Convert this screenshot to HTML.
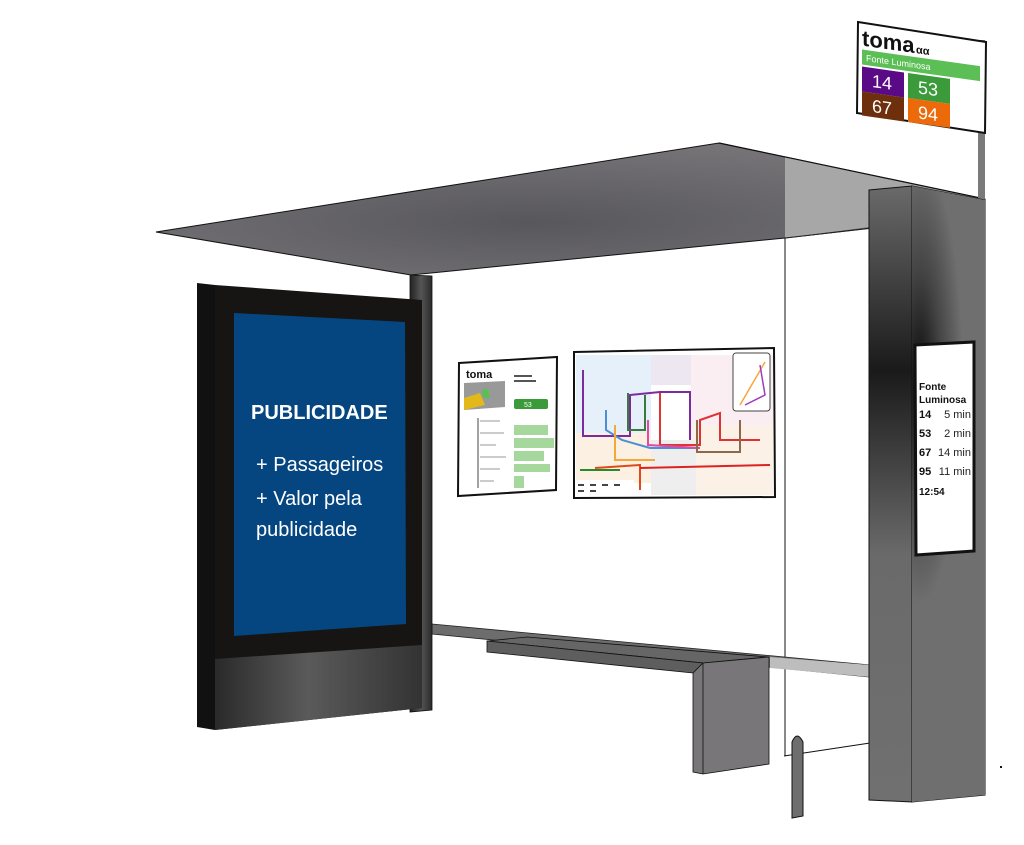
<!DOCTYPE html>
<html><head><meta charset="utf-8"><style>
html,body{margin:0;padding:0;background:#fff;width:1024px;height:845px;overflow:hidden}
svg{display:block}
text{font-family:"Liberation Sans",sans-serif}
</style></head><body>
<svg width="1024" height="845" viewBox="0 0 1024 845" xmlns="http://www.w3.org/2000/svg">
<defs>
<radialGradient id="roofg" cx="0.45" cy="0.6" r="0.7">
<stop offset="0" stop-color="#58575c"/><stop offset="1" stop-color="#7a787b"/></radialGradient>
<linearGradient id="poleg" x1="0" x2="1"><stop offset="0" stop-color="#222"/><stop offset="0.5" stop-color="#555"/><stop offset="1" stop-color="#2a2a2a"/></linearGradient>
<linearGradient id="lowg" x1="0" x2="1"><stop offset="0" stop-color="#2a2a2a"/><stop offset="0.45" stop-color="#5a5a5a"/><stop offset="1" stop-color="#333"/></linearGradient>
<radialGradient id="pilg" cx="0.1" cy="0.33" r="0.6" gradientTransform="scale(1,0.6)translate(0,0.2)">
<stop offset="0" stop-color="#0a0a0a"/><stop offset="0.5" stop-color="#444"/><stop offset="1" stop-color="#6f6f6f"/></radialGradient>
<linearGradient id="pill" x1="0" x2="0" y1="0" y2="1"><stop offset="0" stop-color="#6a6a6a"/><stop offset="0.3" stop-color="#1a1a1a"/><stop offset="0.6" stop-color="#6a6a6a"/><stop offset="1" stop-color="#707070"/></linearGradient>
</defs>

<!-- roof -->
<polygon points="156,232 719,143 985,199 985,215 785,238 411,275" fill="url(#roofg)" stroke="#111" stroke-width="1"/>
<polygon points="785,157 985,199 985,212 785,238" fill="#a7a7a7"/>
<line x1="719" y1="143" x2="985" y2="199" stroke="#111" stroke-width="1.2"/>
<line x1="785" y1="238" x2="900" y2="225" stroke="#222" stroke-width="1"/>

<!-- sign pole -->
<rect x="978" y="40" width="7" height="160" fill="#7a7a7a"/>
<!-- sign -->
<polygon points="858,22 986,42 985,133 857,113" fill="#fff" stroke="#111" stroke-width="2"/>
<g transform="translate(858,22) matrix(1,0.14,0,1,0,0)">
<text x="4" y="23" font-size="22" font-weight="bold" fill="#111">toma</text>
<text x="58" y="23" font-size="11" font-weight="bold" fill="#111">αα</text>
<rect x="4" y="27" width="118" height="15" fill="#5cbf55"/>
<text x="8" y="38" font-size="9" fill="#fff">Fonte Luminosa</text>
<rect x="4" y="44" width="42" height="25" fill="#5a0a86"/>
<rect x="50" y="44" width="42" height="25" fill="#3b9a3a"/>
<rect x="4" y="69" width="42" height="24" fill="#6e2f0c"/>
<rect x="50" y="69" width="42" height="24" fill="#ec6a0a"/>
<text x="14" y="63" font-size="18" fill="#fff">14</text>
<text x="60" y="63" font-size="18" fill="#fff">53</text>
<text x="14" y="88" font-size="18" fill="#fff">67</text>
<text x="60" y="88" font-size="18" fill="#fff">94</text>
</g>

<!-- glass lines -->
<line x1="785" y1="238" x2="785" y2="756" stroke="#111" stroke-width="1"/>
<line x1="784" y1="756" x2="870" y2="743" stroke="#111" stroke-width="1"/>

<!-- back rail -->
<polygon points="432,624 870,665 870,677 432,634" fill="#6d6d6d" stroke="#222" stroke-width="0.8"/>
<polygon points="770,657 870,665 870,677 770,668" fill="#bdbdbd"/>
<!-- bench -->
<polygon points="487,641 527,637 768,657 703,663" fill="#666" stroke="#111" stroke-width="0.8"/>
<polygon points="487,641 703,663 693,673 487,652" fill="#5e5e5e" stroke="#111" stroke-width="0.8"/>
<polygon points="693,673 703,663 769,657 769,764 703,774 693,772" fill="#787678" stroke="#111" stroke-width="0.8"/>
<line x1="703" y1="663" x2="703" y2="774" stroke="#111" stroke-width="0.8"/>
<!-- bollard -->
<path d="M792,818 L792,742 Q797,730 803,742 L803,816 Z" fill="#6e6e6e" stroke="#111" stroke-width="1"/>

<!-- posters -->
<polygon points="459,363 557,357 556,490 458,496" fill="#fff" stroke="#111" stroke-width="2"/>
<text x="466" y="378" font-size="11" font-weight="bold" fill="#111">toma</text>
<polygon points="464,383 505,381 505,407 464,410" fill="#999"/>
<polygon points="464,398 480,393 485,405 464,410" fill="#e3b81b"/>
<polygon points="482,390 488,388 490,398 483,398" fill="#5cbf55"/>
<rect x="514" y="399" width="34" height="10" rx="2" fill="#3b9a3a"/>
<text x="524" y="407" font-size="7" fill="#fff">53</text>
<g fill="#555"><rect x="514" y="375" width="18" height="2"/><rect x="514" y="380" width="22" height="2"/></g>
<line x1="478" y1="418" x2="478" y2="488" stroke="#444" stroke-width="1"/>
<g fill="#ccc"><rect x="480" y="420" width="20" height="2"/><rect x="480" y="432" width="24" height="2"/><rect x="480" y="444" width="16" height="2"/><rect x="480" y="456" width="26" height="2"/><rect x="480" y="468" width="20" height="2"/><rect x="480" y="480" width="14" height="2"/></g>
<g fill="#a6d89e"><rect x="514" y="425" width="34" height="10"/><rect x="514" y="438" width="40" height="10"/><rect x="514" y="451" width="30" height="10"/><rect x="514" y="464" width="36" height="8"/><rect x="514" y="476" width="10" height="12"/></g>

<polygon points="574,352 774,348 775,497 574,498" fill="#fff" stroke="#111" stroke-width="2"/>
<rect x="576" y="355" width="75" height="78" fill="#e6f0fa"/>
<rect x="576" y="433" width="75" height="50" fill="#fbf0e2"/>
<rect x="651" y="355" width="40" height="30" fill="#ece7f0"/>
<rect x="691" y="355" width="82" height="70" fill="#fbeef2"/>
<rect x="691" y="425" width="82" height="70" fill="#fbf1e6"/>
<rect x="651" y="440" width="45" height="55" fill="#eeeeee"/>
<g fill="none" stroke-width="2">
<path d="M583,370 L583,436 L630,436 L630,395 L660,392 L690,392 L690,440" stroke="#7a2ba0"/>
<path d="M628,393 L628,430 L645,430 L645,395" stroke="#3b7a3b"/>
<path d="M660,393 L660,445 L700,445 L700,420 L720,413 L720,440 L760,440" stroke="#d33"/>
<path d="M606,410 L606,430 L622,440 L650,448 L700,448" stroke="#4c8fd6"/>
<path d="M595,468 L640,465 L640,490" stroke="#e04a1a"/>
<path d="M580,470 L620,470" stroke="#2a8a2a"/>
<path d="M640,468 L770,465" stroke="#d22"/>
<path d="M648,420 L648,445 L700,448" stroke="#e04aa0"/>
<path d="M697,420 L697,452 L740,452 L740,420" stroke="#8a6a4a"/>
<path d="M615,425 L615,460 L655,460" stroke="#f4a83a"/>
</g>
<rect x="733" y="353" width="37" height="58" rx="3" fill="#fff" stroke="#444" stroke-width="1"/>
<path d="M740,405 L765,362" stroke="#f4a83a" stroke-width="1.5"/>
<path d="M760,365 L765,395 L745,405" stroke="#a43ac0" stroke-width="1.5" fill="none"/>
<rect x="576" y="480" width="58" height="16" fill="#fff"/>
<g fill="#444"><rect x="578" y="484" width="6" height="2"/><rect x="590" y="484" width="6" height="2"/><rect x="602" y="484" width="6" height="2"/><rect x="614" y="484" width="6" height="2"/><rect x="578" y="490" width="6" height="2"/><rect x="590" y="490" width="6" height="2"/></g>

<!-- left billboard -->
<polygon points="410,275 432,276 432,710 410,712" fill="url(#poleg)" stroke="#111" stroke-width="0.8"/>
<polygon points="197,283 215,285 215,730 197,727" fill="#111"/>
<polygon points="215,285 422,300 422,708 215,730" fill="#161513"/>
<polygon points="215,659 422,645 422,708 215,730" fill="url(#lowg)"/>
<polygon points="234,313 405,322 406,624 234,636" fill="#054680"/>
<text x="251" y="419" font-size="20" font-weight="bold" fill="#fff">PUBLICIDADE</text>
<text x="256" y="471" font-size="20" fill="#fff">+ Passageiros</text>
<text x="256" y="505" font-size="20" fill="#fff">+ Valor pela</text>
<text x="256" y="536" font-size="20" fill="#fff">publicidade</text>

<!-- pillar -->
<polygon points="869,190 912,186 912,802 869,800" fill="url(#pill)" stroke="#111" stroke-width="1"/>
<polygon points="912,186 985,200 985,795 912,802" fill="#707070" stroke="#111" stroke-width="1"/>
<polygon points="912,186 985,200 985,795 912,802" fill="url(#pilg)"/>
<polygon points="915,345 974,342 974,551 916,555" fill="#fff" stroke="#111" stroke-width="3"/>
<g font-size="10" font-weight="bold" fill="#111">
<text x="919" y="390">Fonte</text><text x="919" y="403">Luminosa</text>
<text x="919" y="418" font-size="11">14</text><text x="919" y="437" font-size="11">53</text>
<text x="919" y="456" font-size="11">67</text><text x="919" y="475" font-size="11">95</text>
<text x="919" y="495">12:54</text></g>
<g font-size="11" fill="#222" text-anchor="end">
<text x="971" y="418">5 min</text><text x="971" y="437">2 min</text>
<text x="971" y="456">14 min</text><text x="971" y="475">11 min</text></g>
<rect x="1000" y="766" width="2" height="2" fill="#111"/>
</svg>
</body></html>
